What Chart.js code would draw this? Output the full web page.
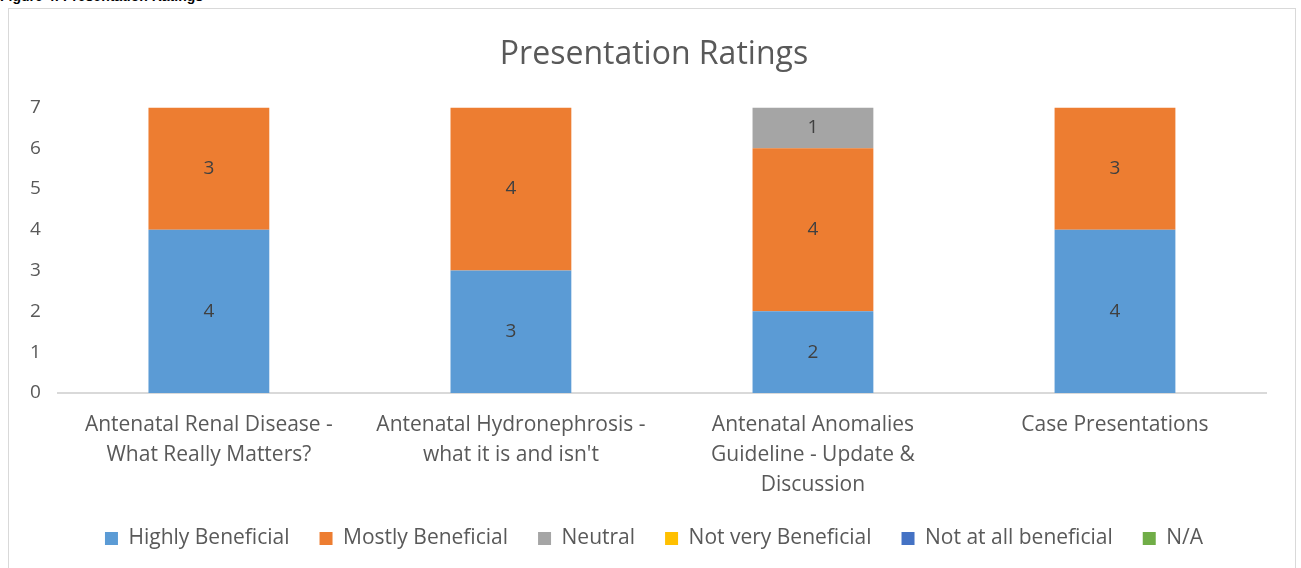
<!DOCTYPE html>
<html>
<head>
<meta charset="utf-8">
<script src="https://cdn.jsdelivr.net/npm/chart.js@4"></script>
<style>
    body { margin: 0; background: #fff; overflow: hidden; }
    .caption {
        position: absolute; left: 0; top: -12px;
        font: bold 14px "Liberation Sans", sans-serif; color: #000;
    }
    .frame {
        position: absolute; left: 8px; top: 8px;
        width: 1286px; height: 570px;
        border: 1px solid #d9d9d9; background: #fff;
    }
</style>
</head>
<body>
<div class="caption">Figure 4: Presentation Ratings</div>
<div class="frame">
    <canvas id="myChart" width="1286" height="570"></canvas>
</div>
<script>
const categories = [
    ['Antenatal Renal Disease -', 'What Really Matters?'],
    ['Antenatal Hydronephrosis -', "what it is and isn't"],
    ['Antenatal Anomalies', 'Guideline - Update &', 'Discussion'],
    'Case Presentations'
];
const highlyBeneficial = [4, 3, 2, 4];
const mostlyBeneficial = [3, 4, 4, 3];
const neutral = [0, 0, 1, 0];
const notVeryBeneficial = [0, 0, 0, 0];
const notAtAllBeneficial = [0, 0, 0, 0];
const notApplicable = [0, 0, 0, 0];
const yTicks = [0, 1, 2, 3, 4, 5, 6, 7];

const fontFamily = '"Open Sans", sans-serif';

// writes the value in the middle of each non-zero segment
const segmentLabels = {
    id: 'segmentLabels',
    afterDatasetsDraw(chart) {
        const ctx = chart.ctx;
        ctx.save();
        ctx.fillStyle = '#404040';
        ctx.font = '19px ' + fontFamily;
        ctx.textAlign = 'center';
        ctx.textBaseline = 'middle';
        chart.data.datasets.forEach((ds, i) => {
            chart.getDatasetMeta(i).data.forEach((bar, j) => {
                if (!ds.data[j]) return;
                ctx.fillText(ds.data[j], bar.x, (bar.y + bar.base) / 2);
            });
        });
        ctx.restore();
    }
};

function series(label, data, color) {
    return {
        label: label,
        data: data,
        backgroundColor: color,
        borderWidth: 0,
        barPercentage: 0.4,
        categoryPercentage: 1
    };
}

const data = {
    labels: categories,
    datasets: [
        series('Highly Beneficial', highlyBeneficial, '#5b9bd5'),
        series('Mostly Beneficial', mostlyBeneficial, '#ed7d31'),
        series('Neutral', neutral, '#a5a5a5'),
        series('Not very Beneficial', notVeryBeneficial, '#ffc000'),
        series('Not at all beneficial', notAtAllBeneficial, '#4472c4'),
        series('N/A', notApplicable, '#70ad47')
    ]
};

const config = {
    type: 'bar',
    data: data,
    options: {
        responsive: false,
        animation: false,
        layout: { padding: { left: 4, right: 0, top: 27, bottom: 20 } },
        plugins: {
            tooltip: { enabled: false },
            title: {
                display: true,
                text: 'Presentation Ratings',
                color: '#595959',
                font: { family: fontFamily, size: 32, weight: 'normal' },
                padding: { top: 0, bottom: 33 }
            },
            legend: {
                position: 'bottom',
                labels: {
                    color: '#595959',
                    font: { family: fontFamily, size: 21 },
                    boxWidth: 13,
                    boxHeight: 13,
                    padding: 30
                }
            }
        },
        scales: {
            x: {
                stacked: true,
                grid: { display: false, drawTicks: false },
                border: { display: true, color: '#d9d9d9', width: 2 },
                afterFit: axis => { axis.height -= 19; },
                ticks: {
                    color: '#595959',
                    font: { family: fontFamily, size: 21, lineHeight: 1.43 },
                    maxRotation: 0,
                    autoSkip: false,
                    padding: 17
                }
            },
            y: {
                stacked: true,
                min: 0,
                max: yTicks[yTicks.length - 1],
                grid: { display: false, drawTicks: false },
                border: { display: false },
                afterBuildTicks: axis => { axis.ticks = yTicks.map(v => ({ value: v })); },
                ticks: {
                    color: '#595959',
                    font: { family: fontFamily, size: 19 },
                    padding: 17
                }
            },
            // empty strip on the right so the plot ends where the original does
            yRight: {
                position: 'right',
                grid: { display: false, drawTicks: false },
                border: { display: false },
                ticks: { display: false },
                afterFit: axis => { axis.width = 29; }
            }
        }
    },
    plugins: [segmentLabels]
};

let myChart = new Chart(document.querySelector('#myChart'), config);
</script>
</body>
</html>
